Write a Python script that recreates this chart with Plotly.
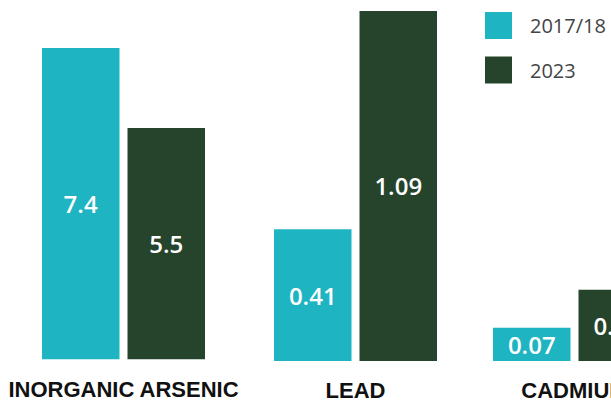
import plotly.graph_objects as go

categories = ["INORGANIC ARSENIC", "LEAD", "CADMIUM"]
series_names = ["2017/18", "2023"]
values_2017 = [7.4, 0.41, 0.07]
values_2023 = [5.5, 1.09, 0.15]
labels_2017 = ["7.4", "0.41", "0.07"]
labels_2023 = ["5.5", "1.09", "0.15"]
colors = ["#1fb4c2", "#25442b"]

W, H = 611, 400
# layout of the three independent panels (pixel based)
x_dom_px = [(38, 210), (270, 441), (489, 611)]
group_px = 171.0
y_bottom_px = [359.5, 361, 361]
y_tops = [8.54, 1.124, 0.76]

fig = go.Figure()
series_vals = [values_2017, values_2023]
series_labels = [labels_2017, labels_2023]

for i, cat in enumerate(categories):
    ax = "" if i == 0 else str(i + 1)
    for s in range(2):
        fig.add_trace(go.Bar(
            x=[cat], y=[series_vals[s][i]],
            text=[series_labels[s][i]],
            name=series_names[s],
            marker=dict(color=colors[s], line=dict(width=0)),
            textposition="inside", insidetextanchor="middle",
            constraintext="none",
            textfont=dict(color="white", size=24, family="Open Sans", weight=600),
            showlegend=False, hoverinfo="skip",
            xaxis="x" + ax, yaxis="y" + ax,
        ))
    x0, x1 = x_dom_px[i]
    xr_hi = -0.5 + (x1 - x0) / group_px
    fig.layout["xaxis" + ax] = dict(
        domain=[x0 / W, x1 / W], range=[-0.5, xr_hi], anchor="y" + ax,
        showgrid=False, zeroline=False, showline=False,
        ticks="", ticklabelstandoff=14, automargin=False,
        tickfont=dict(family="Liberation Sans", size=22, color="#111111", weight="bold"),
        fixedrange=True,
    )
    fig.layout["yaxis" + ax] = dict(
        domain=[(H - y_bottom_px[i]) / H, 1.0], range=[0, y_tops[i]], anchor="x" + ax,
        showgrid=False, zeroline=False, showline=False, showticklabels=False,
        automargin=False, fixedrange=True,
    )

# legend drawn as swatches + text
leg_y = [25.5, 70]
for s in range(2):
    yc = leg_y[s]
    fig.add_shape(type="rect", xref="paper", yref="paper",
                  x0=485 / W, x1=512 / W, y0=(H - yc - 13.5) / H, y1=(H - yc + 13.5) / H,
                  fillcolor=colors[s], line=dict(width=0))
    fig.add_annotation(xref="paper", yref="paper", x=528 / W, y=(H - yc) / H,
                       text=series_names[s], showarrow=False,
                       xanchor="left", yanchor="middle",
                       font=dict(family="Open Sans", size=20, color="#444444"))

fig.update_layout(
    width=W, height=H,
    margin=dict(l=0, r=0, t=0, b=0, autoexpand=False),
    barmode="group", bargap=0, bargroupgap=8 / 85.5,
    plot_bgcolor="white", paper_bgcolor="white",
    showlegend=False,
)

fig.write_html("out.html",
               config={"displayModeBar": False, "staticPlot": True},
               post_script="document.body.style.margin='0';document.body.style.overflow='hidden';")
